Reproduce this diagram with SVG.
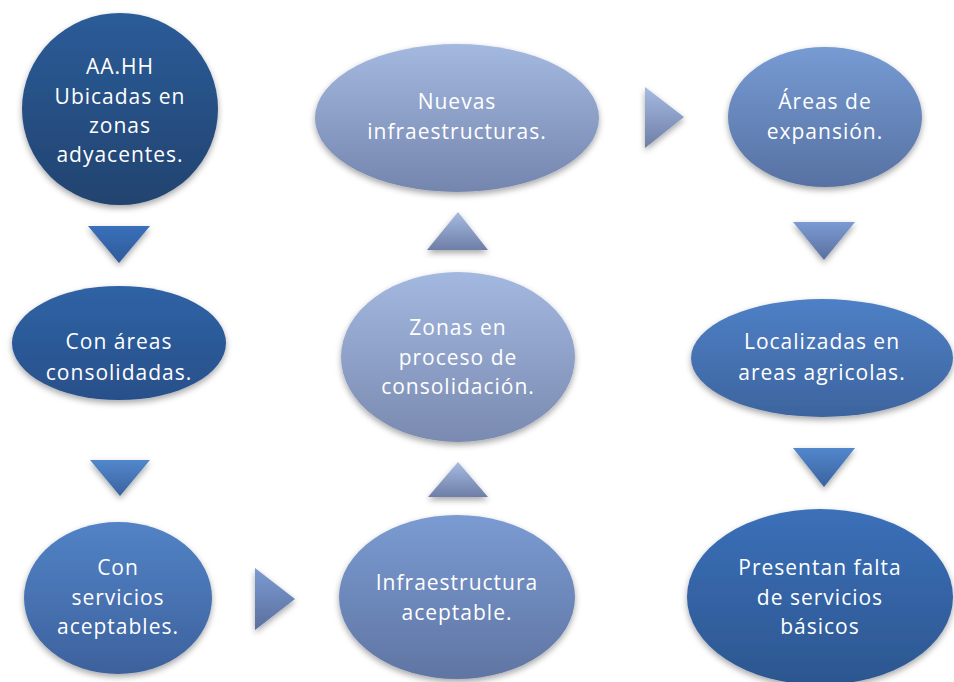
<svg xmlns="http://www.w3.org/2000/svg" width="954" height="682" viewBox="0 0 954 682">
<style>
.t{font-family:"Open Sans","Noto Sans","Liberation Sans",sans-serif;font-size:21px;letter-spacing:1px;fill:#ffffff;text-anchor:middle}
</style>
<defs>
<filter id="sh" x="-20%" y="-20%" width="140%" height="150%">
<feDropShadow dx="0" dy="3" stdDeviation="3" flood-color="#000" flood-opacity="0.35"/>
</filter>
<linearGradient id="g1" x1="0" y1="0" x2="0" y2="1"><stop offset="0" stop-color="#2b5c99"/><stop offset="1" stop-color="#22436f"/></linearGradient>
<linearGradient id="g2" x1="0" y1="0" x2="0" y2="1"><stop offset="0" stop-color="#2f63a5"/><stop offset="1" stop-color="#28508a"/></linearGradient>
<linearGradient id="g3" x1="0" y1="0" x2="0" y2="1"><stop offset="0" stop-color="#5283c6"/><stop offset="1" stop-color="#3d619d"/></linearGradient>
<linearGradient id="g4" x1="0" y1="0" x2="0" y2="1"><stop offset="0" stop-color="#7a9bd2"/><stop offset="1" stop-color="#6075a3"/></linearGradient>
<linearGradient id="g5" x1="0" y1="0" x2="0" y2="1"><stop offset="0" stop-color="#a3b8e0"/><stop offset="1" stop-color="#7a8ab0"/></linearGradient>
<linearGradient id="g6" x1="0" y1="0" x2="0" y2="1"><stop offset="0" stop-color="#a4b9e0"/><stop offset="1" stop-color="#7485ae"/></linearGradient>
<linearGradient id="g7" x1="0" y1="0" x2="0" y2="1"><stop offset="0" stop-color="#769bd3"/><stop offset="1" stop-color="#5771a2"/></linearGradient>
<linearGradient id="g8" x1="0" y1="0" x2="0" y2="1"><stop offset="0" stop-color="#4e80c6"/><stop offset="1" stop-color="#3d649e"/></linearGradient>
<linearGradient id="g9" x1="0" y1="0" x2="0" y2="1"><stop offset="0" stop-color="#3b70b9"/><stop offset="1" stop-color="#2c568f"/></linearGradient>
<linearGradient id="a1" x1="0" y1="0" x2="0" y2="1"><stop offset="0" stop-color="#3a70bb"/><stop offset="1" stop-color="#2e5b98"/></linearGradient>
<linearGradient id="a2" x1="0" y1="0" x2="0" y2="1"><stop offset="0" stop-color="#5287cc"/><stop offset="1" stop-color="#3b629e"/></linearGradient>
<linearGradient id="a3" x1="0" y1="0" x2="0" y2="1"><stop offset="0" stop-color="#7c9bd2"/><stop offset="1" stop-color="#5a6f9e"/></linearGradient>
<linearGradient id="a4" x1="0" y1="0" x2="0" y2="1"><stop offset="0" stop-color="#a6bbe2"/><stop offset="1" stop-color="#6e7ea6"/></linearGradient>
<linearGradient id="a5" x1="0" y1="0" x2="0" y2="1"><stop offset="0" stop-color="#7b9bd3"/><stop offset="1" stop-color="#5a70a0"/></linearGradient>
</defs>
<rect width="954" height="682" fill="#ffffff"/>
<g id="connectors" filter="url(#sh)">
<polygon points="88,226 150,226 119,263" fill="url(#a1)"/>
<polygon points="90,460 150,460 120,496" fill="url(#a2)"/>
<polygon points="255,568 295,599 255,630" fill="url(#a3)"/>
<polygon points="458,462 488,497 428,497" fill="url(#a4)"/>
<polygon points="458,212 488,250 427,250" fill="url(#a4)"/>
<polygon points="645,87 684,117 645,148" fill="url(#a4)"/>
<polygon points="793,222 855,222 824,260" fill="url(#a5)"/>
<polygon points="793,448 855,448 824,487" fill="url(#a2)"/>
</g>
<g id="n1"><ellipse cx="120" cy="109" rx="98" ry="96" fill="url(#g1)" filter="url(#sh)"/>
<text class="t" x="120" y="74">AA.HH</text><text class="t" x="120" y="104">Ubicadas en</text><text class="t" x="120" y="133">zonas</text><text class="t" x="120" y="162">adyacentes.</text></g>
<g id="n2"><ellipse cx="119" cy="343" rx="107" ry="57" fill="url(#g2)" filter="url(#sh)"/>
<text class="t" x="119" y="349">Con áreas</text><text class="t" x="119" y="380">consolidadas.</text></g>
<g id="n3"><ellipse cx="118" cy="598" rx="94" ry="76" fill="url(#g3)" filter="url(#sh)"/>
<text class="t" x="118" y="575">Con</text><text class="t" x="118" y="605">servicios</text><text class="t" x="118" y="634">aceptables.</text></g>
<g id="n4"><ellipse cx="457" cy="597" rx="118" ry="82" fill="url(#g4)" filter="url(#sh)"/>
<text class="t" x="457" y="590">Infraestructura</text><text class="t" x="457" y="620">aceptable.</text></g>
<g id="n5"><ellipse cx="458" cy="357" rx="117" ry="85" fill="url(#g5)" filter="url(#sh)"/>
<text class="t" x="458" y="335">Zonas en</text><text class="t" x="458" y="365">proceso de</text><text class="t" x="458" y="394">consolidación.</text></g>
<g id="n6"><ellipse cx="457" cy="118" rx="142" ry="74" fill="url(#g6)" filter="url(#sh)"/>
<text class="t" x="457" y="109">Nuevas</text><text class="t" x="457" y="139">infraestructuras.</text></g>
<g id="n7"><ellipse cx="825" cy="117" rx="97" ry="70" fill="url(#g7)" filter="url(#sh)"/>
<text class="t" x="825" y="109">Áreas de</text><text class="t" x="825" y="139">expansión.</text></g>
<g id="n8"><ellipse cx="822" cy="358" rx="131" ry="59" fill="url(#g8)" filter="url(#sh)"/>
<text class="t" x="822" y="349">Localizadas en</text><text class="t" x="822" y="380">areas agricolas.</text></g>
<g id="n9"><ellipse cx="820" cy="597" rx="133" ry="88" fill="url(#g9)" filter="url(#sh)"/>
<text class="t" x="820" y="575">Presentan falta</text><text class="t" x="820" y="605">de servicios</text><text class="t" x="820" y="634">básicos</text></g>
</svg>
